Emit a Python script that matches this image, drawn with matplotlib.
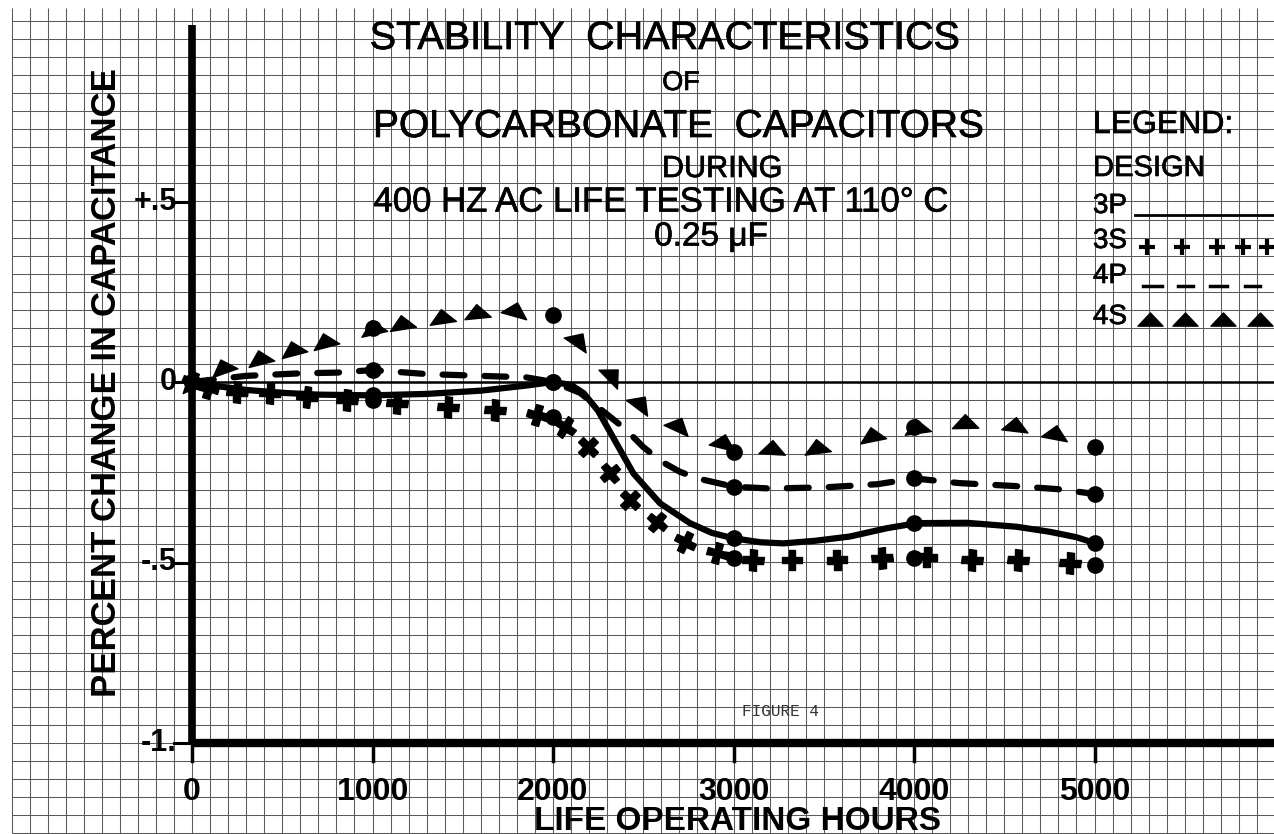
import numpy as np
import matplotlib
matplotlib.use('Agg')
from matplotlib import pyplot as plt
from matplotlib import patheffects
from matplotlib.markers import MarkerStyle
from matplotlib.path import Path
from matplotlib.transforms import Affine2D

# readings every 1000 hours (the big dots)
hours = [0, 1000, 2000, 3000, 4000, 5000]
p3_pts = [0.0, -0.037, 0.0, -0.433, -0.390, -0.446]
s3_pts = [0.0, -0.050, -0.097, -0.488, -0.488, -0.507]
p4_pts = [0.0, 0.033, 0.0, -0.290, -0.267, -0.310]
s4_pts = [0.0, 0.149, 0.186, -0.193, -0.124, -0.180]

# design 3P, solid curve as drawn
p3_h = [0, 150, 300, 500, 700, 1000, 1300, 1600, 1850, 2000, 2100, 2170, 2250, 2320,
        2445, 2593, 2759, 2880, 3000, 3150, 3276, 3450, 3645, 3850, 4015, 4292, 4569,
        4753, 4900, 5000]
p3_v = [0.0, -0.012, -0.022, -0.030, -0.035, -0.037, -0.033, -0.024, -0.010, 0.0, -0.008,
        -0.031, -0.080, -0.142, -0.253, -0.336, -0.391, -0.418, -0.433, -0.444, -0.447,
        -0.440, -0.428, -0.405, -0.391, -0.390, -0.401, -0.415, -0.430, -0.446]

# design 4P, dashed curve as drawn
p4_h = [0, 300, 600, 800, 1000, 1300, 1600, 1850, 2000, 2150, 2300, 2400, 2500, 2600,
        2700, 2800, 3000, 3200, 3500, 3800, 4000, 4250, 4550, 4800, 5000]
p4_v = [0.0, 0.017, 0.024, 0.026, 0.033, 0.022, 0.017, 0.013, 0.0, -0.030, -0.090, -0.130,
        -0.180, -0.220, -0.248, -0.267, -0.290, -0.295, -0.292, -0.283, -0.267, -0.280,
        -0.288, -0.297, -0.310]

# design 3S, plus signs as drawn
s3_h = [0, 89, 249, 432, 637, 859, 1136, 1418, 1679, 1911, 2066, 2194, 2316, 2427, 2576,
        2731, 2909, 3108, 3324, 3573, 3823, 4072, 4321, 4576, 4864]
s3_v = [0.0, -0.017, -0.028, -0.030, -0.042, -0.050, -0.058, -0.069, -0.078, -0.091,
        -0.125, -0.180, -0.252, -0.327, -0.388, -0.443, -0.474, -0.493, -0.493, -0.493,
        -0.488, -0.485, -0.493, -0.493, -0.501]

# design 4S, triangles as drawn
s4_h = [0, 172, 377, 562, 737, 1003, 1163, 1385, 1579, 1790, 2140, 2325, 2480, 2695, 2943,
        3213, 3460, 3765, 4015, 4280, 4560, 4781]
s4_v = [0.0, 0.042, 0.066, 0.091, 0.114, 0.149, 0.163, 0.180, 0.194, 0.200, 0.116, 0.019,
        -0.058, -0.119, -0.165, -0.184, -0.180, -0.147, -0.124, -0.110, -0.119, -0.140]

x_ticks = [0, 1000, 2000, 3000, 4000, 5000]
x_tick_labels = ['0', '1000', '2000', '3000', '4000', '5000']
y_ticks = [0.5, 0.0, -0.5, -1.0]
y_tick_labels = ['+.5', '0', '-.5', '-1.']

W, H = 1274, 834
HPX = 0.1805   # pixels per hour
VPX = 361.0    # pixels per percent


def px(x, y):
    # pixel position in the picture -> figure fraction
    return x / W, 1 - y / H


def slope_angles(h, v):
    dx = np.gradient(np.asarray(h, float)) * HPX
    dy = np.gradient(np.asarray(v, float)) * VPX
    return np.degrees(np.arctan2(dy, dx))


plt.rcParams['font.family'] = ['Liberation Sans', 'DejaVu Sans']
# stencil lettering is a bit heavier than the regular face
heavy = [patheffects.withStroke(linewidth=0.5, foreground='k')]

fig = plt.figure(figsize=(W / 100, H / 100), dpi=100)
ax = fig.add_axes([0, 0, 1, 1])
ax.set_xlim(-192 / HPX, (W - 192) / HPX)
ax.set_ylim((382 - H) / VPX, 382 / VPX)
ax.axis('off')

# graph paper
grid_c = '#5a5a5a'
ax.vlines(np.arange(-1000, 6000, 100), -1.25, 1.036, color=grid_c, lw=0.75, zorder=0)
ax.hlines(np.arange(-1.25, 1.001, 0.05), -1000, 6000, color=grid_c, lw=0.75, zorder=0)

# axes drawn on the paper
ax.plot([0, 0], [-1.0, 0.99], color='k', lw=5.5, solid_capstyle='butt', zorder=3)
ax.plot([0, 6000], [-1.0, -1.0], color='k', lw=6, solid_capstyle='butt', zorder=3)
ax.plot([0, 6000], [0, 0], color='k', lw=1.8, zorder=2)
for v, lab in zip(y_ticks, y_tick_labels):
    ax.plot([-100, 0], [v, v], color='k', lw=2.2, zorder=3)
    ax.text(-85, v, lab, ha='right', va='center', fontsize=22, fontweight='bold')
for h, lab in zip(x_ticks, x_tick_labels):
    ax.plot([h, h], [-1.0, -1.05], color='k', lw=2.5, zorder=3)
    ax.text(h, -1.136, lab, ha='center', va='center', fontsize=23, fontweight='bold')

# curves
ax.plot(p3_h, p3_v, color='k', lw=4.5, solid_capstyle='round', zorder=4)
ax.plot(p4_h, p4_v, color='k', lw=4.5, linestyle=(0, (3.5, 3.2)),
        dash_capstyle='round', zorder=4)

for h, v, a in zip(s3_h, s3_v, slope_angles(s3_h, s3_v)):
    m = MarkerStyle('P', transform=Affine2D().rotate_deg(a))
    ax.plot(h, v, marker=m, color='k', markersize=15, linestyle='none', zorder=4)

tri = Path([(-1.0, -0.45), (1.0, -0.45), (0.0, 0.6), (-1.0, -0.45)],
           [Path.MOVETO, Path.LINETO, Path.LINETO, Path.CLOSEPOLY])
for h, v, a in zip(s4_h, s4_v, slope_angles(s4_h, s4_v)):
    m = MarkerStyle(tri, transform=Affine2D().rotate_deg(a))
    ax.plot(h, v, marker=m, color='k', markersize=19, linestyle='none', zorder=4)

for pts in (p3_pts, s3_pts, p4_pts, s4_pts):
    ax.plot(hours, pts, 'o', color='k', markersize=11, zorder=5)

# titles
title_lines = [
    ('STABILITY  CHARACTERISTICS', 665, 38, 28.5),
    ('OF', 681, 83, 19.5),
    ('POLYCARBONATE  CAPACITORS', 678, 127, 28),
    ('DURING', 722, 169, 22),
    ('400 HZ AC LIFE TESTING AT 110° C', 661, 202, 25),
    ('0.25 \u03bcF', 711, 237, 24),
]
for txt, x, y, fs in title_lines:
    fig.text(*px(x, y), txt, ha='center', va='center', fontsize=fs, path_effects=heavy)

fig.text(*px(107, 383), 'PERCENT CHANGE IN CAPACITANCE', rotation=90,
         ha='center', va='center', fontsize=25, fontweight='bold')
fig.text(*px(737, 821), 'LIFE OPERATING HOURS', ha='center', va='center',
         fontsize=24, fontweight='bold')
fig.text(*px(780, 712), 'FIGURE 4', ha='center', va='center', fontsize=11.5,
         family=['Liberation Mono', 'DejaVu Sans Mono'], color='#333333')

# legend block
fig.text(*px(1093, 125), 'LEGEND:', ha='left', va='center', fontsize=23,
         path_effects=heavy)
fig.text(*px(1093, 168), 'DESIGN', ha='left', va='center', fontsize=21,
         path_effects=heavy)
for lab, y in zip(['3P', '3S', '4P', '4S'], [206, 241, 276, 317]):
    fig.text(*px(1093, y), lab, ha='left', va='center', fontsize=20, path_effects=heavy)

lx, ly = px(1135, 215)
lx2, _ = px(1274, 215)
fig.add_artist(plt.Line2D([lx, lx2], [ly, ly], color='k', lw=2))
for x in [1147, 1182, 1217, 1243, 1267]:
    fig.add_artist(plt.Line2D([px(x, 247)[0]], [px(x, 247)[1]], marker='+', color='k',
                              markersize=12, markeredgewidth=3, linestyle='none'))
for x0, x1 in [(1143, 1162), (1178, 1193), (1210, 1227), (1245, 1260)]:
    fig.add_artist(plt.Line2D([px(x0, 286)[0], px(x1, 286)[0]], [px(x0, 286)[1]] * 2,
                              color='k', lw=2.5))
for x in [1150, 1185, 1223, 1260]:
    fig.add_artist(plt.Line2D([px(x, 320)[0]], [px(x, 320)[1]], marker=tri, color='k',
                              markersize=18, linestyle='none'))

fig.savefig('out.png', dpi=100, facecolor='white')
